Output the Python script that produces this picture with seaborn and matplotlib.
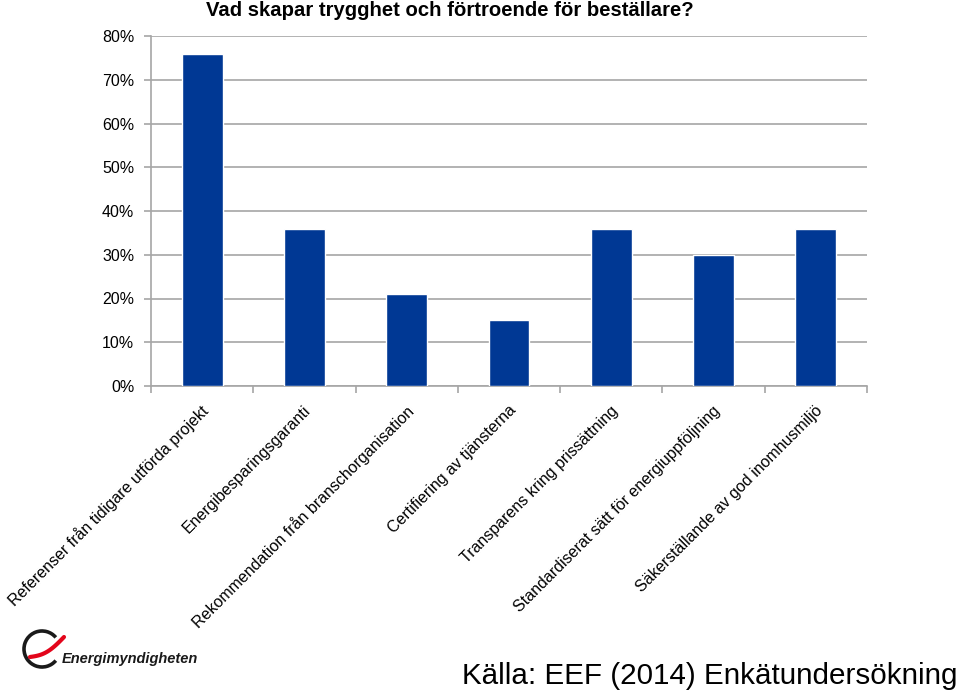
import matplotlib
matplotlib.use("Agg")
import matplotlib.pyplot as plt
import seaborn as sns
import pandas as pd
import numpy as np
from matplotlib.patches import Arc
from matplotlib.ticker import FuncFormatter, MultipleLocator

categories = [
    "Referenser från tidigare utförda projekt",
    "Energibesparingsgaranti",
    "Rekommendation från branschorganisation",
    "Certifiering av tjänsterna",
    "Transparens kring prissättning",
    "Standardiserat sätt för energiuppföljning",
    "Säkerställande av god inomhusmiljö",
]
values = [76, 36, 21, 15, 36, 30, 36]
title = "Vad skapar trygghet och förtroende för beställare?"
source = "Källa: EEF (2014) Enkätundersökning"
logo_text = "Energimyndigheten"

sns.set_theme(style="white")
plt.rcParams["font.family"] = ["Liberation Sans", "DejaVu Sans"]

df = pd.DataFrame({"cat": categories, "val": values})

fig = plt.figure(figsize=(9.6, 6.95), dpi=100)
W, H = 960, 695
ax = fig.add_axes([151 / W, 1 - 386 / H, (867 - 151) / W, (386 - 36) / H])

sns.barplot(data=df, x="cat", y="val", color="#003894", width=0.4,
            saturation=1, ax=ax, zorder=3)

ax.set_ylim(0, 80)
ax.set_xlim(-0.5, len(categories) - 0.5)
ax.yaxis.set_major_locator(MultipleLocator(10))
ax.yaxis.set_major_formatter(FuncFormatter(lambda v, p: f"{int(v)}%"))
ax.grid(axis="y", color="#a6a6a6", linewidth=1.2, zorder=0)
ax.set_axisbelow(True)
ax.set_xlabel("")
ax.set_ylabel("")

for s in ["top", "right"]:
    ax.spines[s].set_visible(False)
for s in ["left", "bottom"]:
    ax.spines[s].set_color("#a6a6a6")
    ax.spines[s].set_linewidth(1.2)

ax.tick_params(axis="y", length=5, color="#a6a6a6", width=1.2, labelsize=11.5,
               pad=7, left=True, labelcolor="black")
# x ticks at boundaries between categories
ax.set_xticks(np.arange(-0.5, len(categories) + 0.5, 1.0))
ax.set_xticklabels([])
ax.tick_params(axis="x", length=5, color="#a6a6a6", width=1.2, bottom=True)

for i, c in enumerate(categories):
    ax.annotate(c, xy=(i, 0), xycoords="data", xytext=(3, -16),
                textcoords="offset points", rotation=45, rotation_mode="anchor",
                ha="right", va="center", fontsize=11.5, color="black")

fig.text(450 / W, 1 - 11 / H, title, ha="center", va="center",
         fontsize=14.6, fontweight="bold", color="black")

fig.text(958 / W, 1 - 676 / H, source, ha="right", va="center",
         fontsize=21.3, color="black")

# logo
lax = fig.add_axes([0, 0, 1, 1], facecolor="none")
lax.set_xlim(0, W)
lax.set_ylim(H, 0)
lax.axis("off")
lax.add_patch(Arc((42, 649), 36, 36, theta1=40, theta2=320, color="#1a1a1a", lw=2.6))
t = np.linspace(0, 1, 50)
xs = 30 + 34 * t
ys = 657 - 20 * t + 8 * np.sin(np.pi * t) * 0.6
lax.plot(xs, ys, color="#e3051b", lw=3, solid_capstyle="round")
lax.text(62, 659, logo_text, ha="left", va="center", fontsize=10.5,
         fontweight="bold", style="italic", color="#1a1a1a")

fig.savefig("out.png", dpi=100)
